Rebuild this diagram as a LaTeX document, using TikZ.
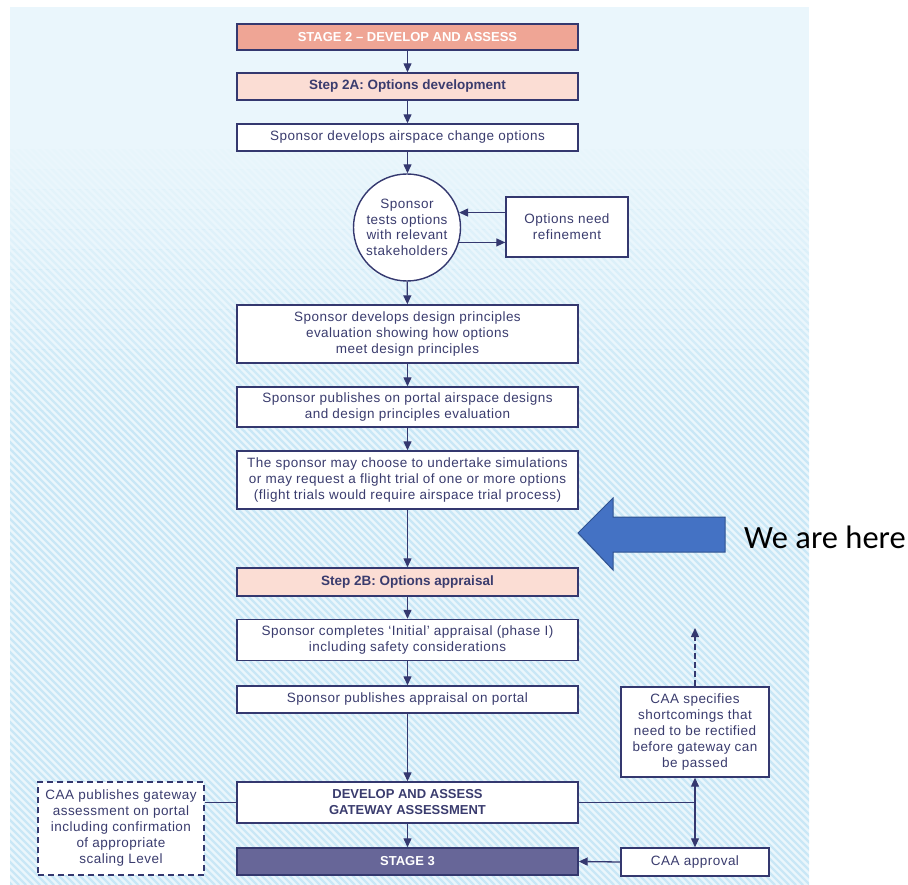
\documentclass[tikz,border=0pt]{standalone}
\usepackage{fontspec}
\setmainfont{Liberation Sans}[LetterSpace=3.5]
\newfontfamily\headfont{Liberation Sans}
\newfontfamily\callfont{Carlito}
\usetikzlibrary{arrows.meta}
\definecolor{navy}{HTML}{34386F}
\definecolor{txt}{HTML}{3A3C6E}
\definecolor{salmon}{HTML}{EFA595}
\definecolor{pinkfill}{HTML}{FBDDD4}
\definecolor{purp}{HTML}{676698}
\definecolor{panel}{HTML}{EAF6FC}
\definecolor{stripe}{HTML}{C9E7F6}
\definecolor{bluearr}{HTML}{4472C4}
\definecolor{bluearrb}{HTML}{2F528F}
\tikzset{
  box/.style={draw=navy, line width=1.4pt, fill=white, minimum width=341pt, inner sep=0pt,
    align=center, text=txt, font=\fontsize{13.5}{16}\selectfont},
  headbox/.style={box, font=\headfont\bfseries\fontsize{13.5}{16}\selectfont},
  arr/.style={navy, line width=1.3pt, -{Triangle[length=9pt,width=8pt]}},
  link/.style={navy, line width=1.3pt},
}
\begin{document}
\begin{tikzpicture}[x=1pt,y=-1pt]
\useasboundingbox (0,0) rectangle (908,885);
% panel
\fill[panel] (10,7) rectangle (809,885);
\foreach \k in {1,...,15} {
  \begin{scope}
    \pgfmathsetmacro{\ya}{150+20*(\k-1)}
    \pgfmathsetmacro{\yb}{150+20*\k}
    \pgfmathsetmacro{\op}{\k/15}
    \clip (10,\ya) rectangle (809,\yb);
    \foreach \i in {-880,-873,...,810}
      \draw[stripe, line width=2.2pt, opacity=\op] (\i,7) -- ++(878,878);
  \end{scope}
}
\begin{scope}
  \clip (10,450) rectangle (809,885);
  \foreach \i in {-880,-873,...,810}
    \draw[stripe, line width=2.2pt] (\i,7) -- ++(878,878);
\end{scope}

% main column
\node[headbox, fill=salmon, text=white, minimum height=26pt, font=\headfont\bfseries\fontsize{13}{16}\selectfont] (s2) at (407.5,37) {STAGE 2 – DEVELOP AND ASSESS};
\node[headbox, fill=pinkfill, minimum height=27pt] (s2a) at (407.5,86.5) {Step 2A: Options development};
\node[box, minimum height=27pt] (dev) at (407.5,137.5) {Sponsor develops airspace change options};
\node[draw=navy, line width=1.4pt, fill=white, circle, minimum size=107pt, inner sep=0pt,
      align=center, text=txt, font=\fontsize{13.5}{15.5}\selectfont] (circ) at (407,227.5)
      {Sponsor\\tests options\\with relevant\\stakeholders};
\node[box, minimum width=122pt, minimum height=60pt] (refine) at (567,227) {Options need\\refinement};
\node[box, minimum height=58pt] (dp) at (407.5,334) {Sponsor develops design principles\\evaluation showing how options\\meet design principles};
\node[box, minimum height=40pt] (pub) at (407.5,407) {Sponsor publishes on portal airspace designs\\and design principles evaluation};
\node[box, minimum height=58pt] (sim) at (407.5,480) {The sponsor may choose to undertake simulations\\or may request a flight trial of one or more options\\(flight trials would require airspace trial process)};
\node[headbox, fill=pinkfill, minimum height=28pt] (s2b) at (407.5,582) {Step 2B: Options appraisal};
\node[box, minimum height=41pt] (comp) at (407.5,640) {Sponsor completes ‘Initial’ appraisal (phase I)\\including safety considerations};
\node[box, minimum height=27pt] (pubapp) at (407.5,699.5) {Sponsor publishes appraisal on portal};
\node[headbox, minimum height=41pt, font=\headfont\bfseries\fontsize{13}{16}\selectfont] (gate) at (407.5,802.5) {DEVELOP AND ASSESS\\GATEWAY ASSESSMENT};
\node[headbox, fill=purp, text=white, minimum height=27pt, font=\headfont\bfseries\fontsize{13}{16}\selectfont] (s3) at (407.5,861.5) {STAGE 3};

% side boxes
\node[box, dash pattern=on 6pt off 4pt, minimum width=166pt, minimum height=93pt] (cpub) at (121,828.5)
  {CAA publishes gateway\\assessment on portal\\including confirmation\\of appropriate\\scaling Level};
\node[box, minimum width=148pt, minimum height=90pt] (spec) at (695,732)
  {CAA specifies\\shortcomings that\\need to be rectified\\before gateway can\\be passed};
\node[box, minimum width=148pt, minimum height=28pt] (appr) at (695,862) {CAA approval};
\coordinate (up) at (695,628);
\coordinate (j) at (695,802.5);

% connectors
\draw[arr] (s2) -- (s2a);
\draw[arr] (s2a) -- (dev);
\draw[arr] (dev.south) -- (dev.south |- circ.north);
\draw[arr] (circ) -- (dp);
\draw[arr] (refine.west |- circ.16) -- (circ.16);
\draw[arr] (circ.-16) -- (refine.west |- circ.-16);
\draw[arr] (dp) -- (pub);
\draw[arr] (pub) -- (sim);
\draw[arr] (sim) -- (s2b);
\draw[arr] (s2b) -- (comp);
\draw[arr] (comp) -- (pubapp);
\draw[arr] (pubapp) -- (gate);
\draw[arr] (gate) -- (s3);
\draw[link] (cpub.east |- gate.west) -- (gate.west);
\draw[link] (gate.east) -- (j);
\draw[arr] (j) -- (spec.south);
\draw[arr] (j) -- (appr.north);
\draw[arr, dash pattern=on 6pt off 3pt] (spec.north) -- (up);
\draw[arr] (appr.west) -- (s3.east);

% "We are here" pointer
\draw[fill=bluearr, draw=bluearrb, line width=1pt]
  (578,533) -- (613,498) -- (613,517) -- (725,517) -- (725,552) -- (613,552) -- (613,570) -- cycle;
\node[anchor=west, inner sep=0pt, font=\callfont\fontsize{32.5}{38}\selectfont] (here) at (744,537) {We are here};
\end{tikzpicture}
\end{document}
